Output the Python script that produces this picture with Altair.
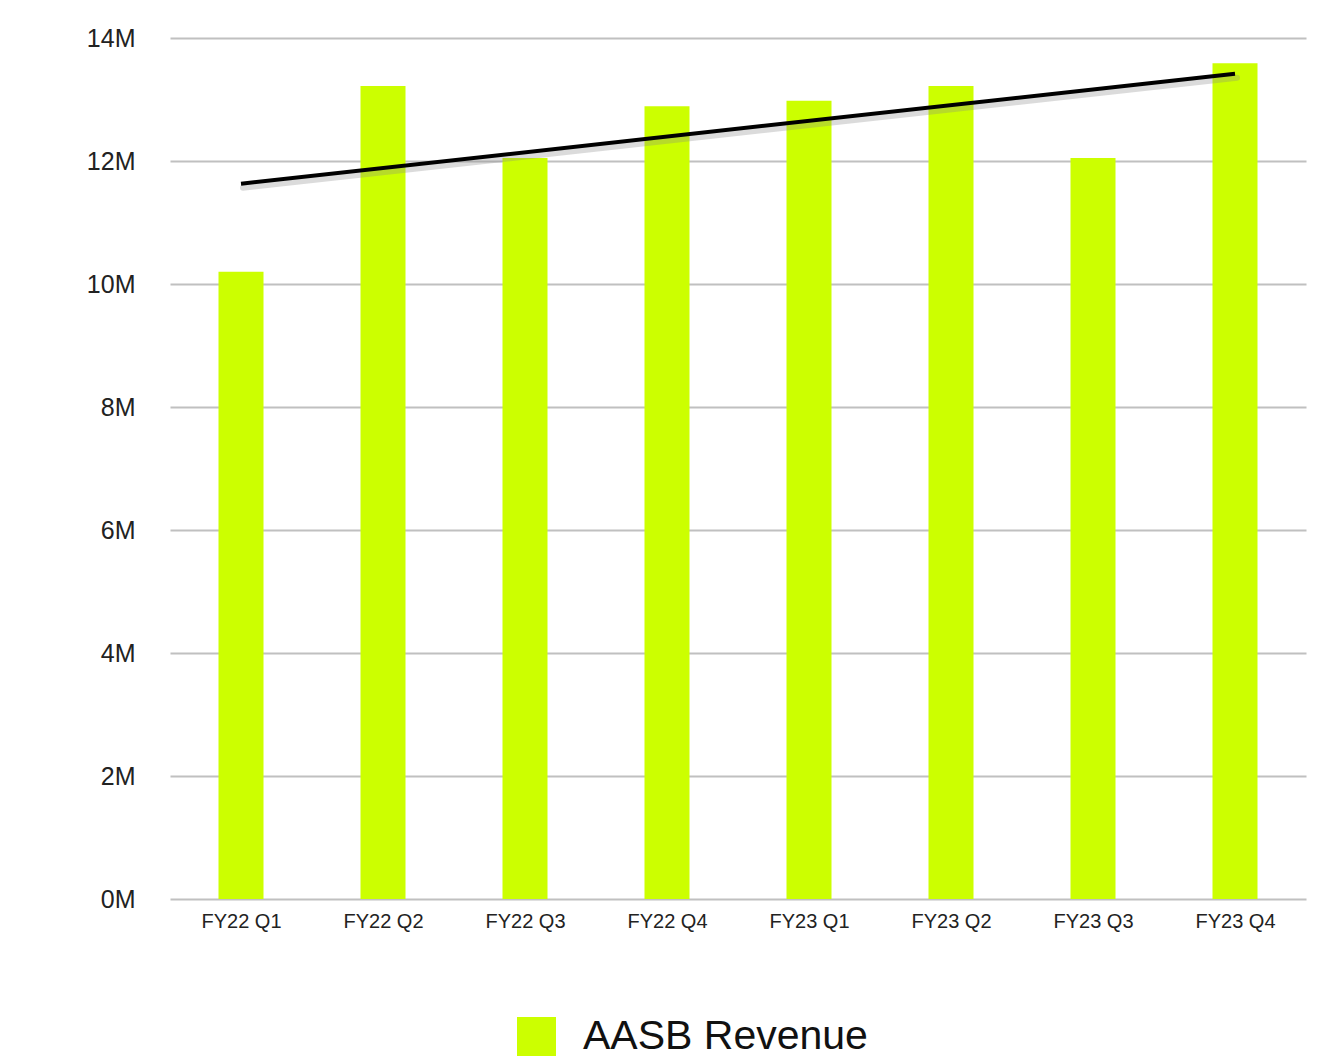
import altair as alt
import pandas as pd
import json

quarters = ["FY22 Q1", "FY22 Q2", "FY22 Q3", "FY22 Q4", "FY23 Q1", "FY23 Q2", "FY23 Q3", "FY23 Q4"]
revenue = [10.2e6, 13.22e6, 12.05e6, 12.89e6, 12.98e6, 13.22e6, 12.05e6, 13.59e6]
y_ticks = [0, 2e6, 4e6, 6e6, 8e6, 10e6, 12e6, 14e6]
series_name = "AASB Revenue"

df = pd.DataFrame({
    "idx": list(range(len(quarters))),
    "quarter": quarters,
    "revenue": revenue,
    "series": [series_name] * len(quarters),
})

FONT = "Liberation Sans"
LIME = "#ccff00"

label_expr = json.dumps(quarters) + "[round(datum.value)]"

x_enc = alt.X(
    "idx:Q",
    scale=alt.Scale(domain=[-0.5, len(quarters) - 0.5], nice=False, zero=False, padding=0),
    axis=alt.Axis(
        values=list(range(len(quarters))),
        labelExpr=label_expr,
        grid=False, domain=False, ticks=False,
        labelFontSize=20, labelFont=FONT, labelColor="#222222",
        labelPadding=12, title=None, labelFlush=False,
    ),
)
y_enc = alt.Y(
    "revenue:Q",
    scale=alt.Scale(domain=[0, 14e6], nice=False, padding=0),
    axis=alt.Axis(
        values=y_ticks,
        labelExpr="format(datum.value / 1000000, 'd') + 'M'",
        grid=True, gridColor="#c0c0c0", gridWidth=2,
        domain=False, ticks=False,
        labelFontSize=25, labelFont=FONT, labelColor="#222222",
        labelPadding=35, title=None,
    ),
)

bars = alt.Chart(df).mark_bar(width=45).encode(
    x=x_enc,
    y=y_enc,
    color=alt.Color(
        "series:N",
        scale=alt.Scale(domain=[series_name], range=[LIME]),
        legend=alt.Legend(
            title=None, orient="none", legendX=346, legendY=978,
            symbolType="square", symbolSize=1521, symbolStrokeWidth=0,
            labelFontSize=41, labelFont=FONT, labelColor="#111111",
            labelOffset=26, symbolOpacity=1, labelLimit=0,
        ),
    ),
)

shadow = alt.Chart(df).mark_line(
    color="#888888", strokeWidth=6, opacity=0.3, yOffset=4, xOffset=2, strokeCap="round"
).transform_regression("idx", "revenue", method="linear").encode(
    x=alt.X("idx:Q"), y=alt.Y("revenue:Q")
)

trend = alt.Chart(df).mark_line(
    color="#000000", strokeWidth=4
).transform_regression("idx", "revenue", method="linear").encode(
    x=alt.X("idx:Q"), y=alt.Y("revenue:Q")
)

chart = alt.layer(bars, shadow, trend).properties(
    width=1136, height=861,
    autosize=alt.AutoSizeParams(type="none"),
    padding={"left": 162, "top": 30, "right": 20, "bottom": 160},
).configure_view(stroke=None)

chart.save("out.html", embed_options={"renderer": "svg", "actions": False})
